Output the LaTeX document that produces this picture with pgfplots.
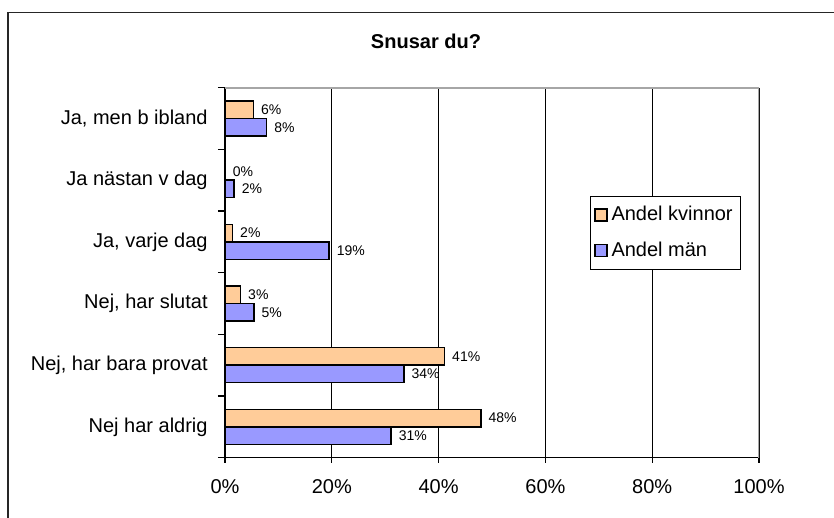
\documentclass[border=0pt]{standalone}
\usepackage{fontspec}
\setmainfont{Liberation Sans}
\usepackage{pgfplots}
\pgfplotsset{compat=1.18}
\definecolor{kv}{HTML}{FFCC99}
\definecolor{man}{HTML}{9999FF}
\begin{document}
\begin{tikzpicture}[x=1bp,y=1bp]
\useasboundingbox (0,0) rectangle (417,-259);
\draw[line width=0.8bp, black!85] (4,-6.3) rectangle (430,-275);
\node[font=\fontsize{10bp}{12bp}\selectfont\bfseries] at (213,-20.7) {Snusar du?};
\begin{axis}[
  at={(112.5bp,-228.85bp)}, anchor=south west,
  scale only axis, width=267bp, height=185bp,
  xmin=0, xmax=100, ymin=-0.5, ymax=5.5,
  axis x line*=bottom, axis y line*=left,
  axis line style={line width=0.7bp, black},
  xbar, bar width=0.284,
  xtick={0,20,40,60,80,100},
  xticklabels={0\%,20\%,40\%,60\%,80\%,100\%},
  ytick={0,1,2,3,4,5},
  yticklabels={Nej har aldrig,{Nej, har bara provat},{Nej, har slutat},{Ja, varje dag},Ja nästan v dag,{Ja, men b ibland}},
  minor ytick={-0.5,0.5,1.5,2.5,3.5,4.5,5.5},
  tick align=outside,
  major tick length=2.5bp, minor tick length=3.5bp,
  major y tick style={draw=none},
  minor y tick style={draw=black, line width=0.6bp},
  major x tick style={draw=black, line width=0.6bp},
  xmajorgrids, major grid style={black, line width=0.5bp},
  ticklabel style={font=\fontsize{10bp}{12bp}\selectfont},
  /pgf/number format/assume math mode=true,
  xticklabel style={anchor=north, inner sep=0pt, yshift=-8bp},
  yticklabel style={anchor=east, inner sep=0pt, xshift=-6bp},
  point meta=explicit symbolic,
  nodes near coords,
  every node near coord/.append style={font=\fontsize{7bp}{8bp}\selectfont, anchor=west, inner sep=0.5bp, xshift=3bp},
  legend cell align=left,
  legend style={at={(rel axis cs:0.683,0.708)}, anchor=north west, draw=black, line width=0.6bp,
    font=\fontsize{10bp}{12bp}\selectfont, row sep=5bp, inner xsep=2bp, inner ysep=3bp},
  legend image code/.code={\draw[#1, line width=0.6bp] (0bp,-3bp) rectangle (6bp,3bp);},
]
\addplot[fill=kv, draw=black, line width=0.75bp, bar shift=0.142] coordinates {
  (47.9,0) [48\%]
  (41.1,1) [41\%]
  (2.9,2) [3\%]
  (1.4,3) [2\%]
  (0,4) [0\%]
  (5.3,5) [6\%]
};
\addplot[fill=man, draw=black, line width=0.75bp, bar shift=-0.142] coordinates {
  (31.1,0) [31\%]
  (33.5,1) [34\%]
  (5.4,2) [5\%]
  (19.5,3) [19\%]
  (1.7,4) [2\%]
  (7.8,5) [8\%]
};
\legend{Andel kvinnor, Andel män}
\draw[gray!70, line width=1bp] (rel axis cs:0,1) -- (rel axis cs:1,1) -- (rel axis cs:1,0);
\end{axis}
\end{tikzpicture}
\end{document}
